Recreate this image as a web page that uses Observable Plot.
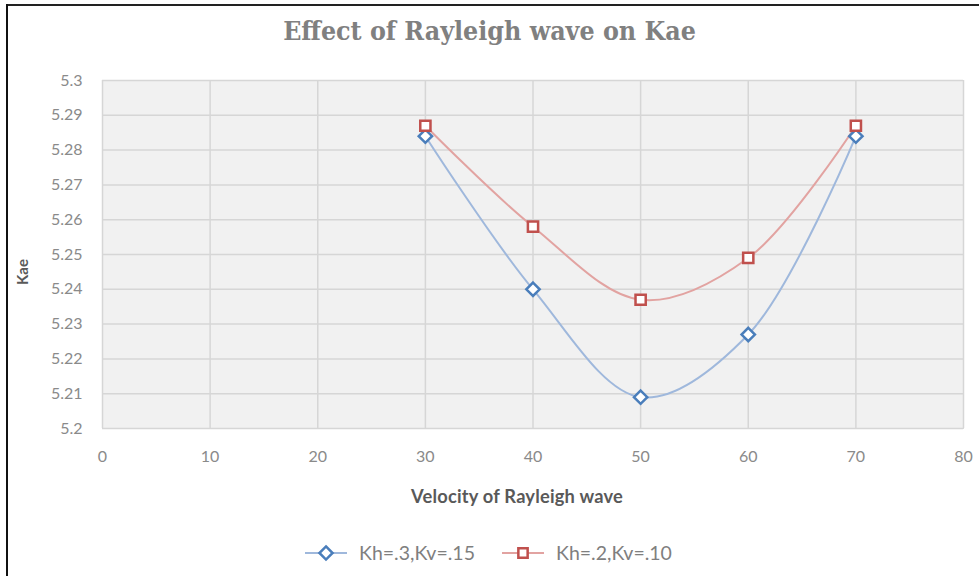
<!DOCTYPE html>
<html>
<head>
<meta charset="utf-8">
<script src="https://cdn.jsdelivr.net/npm/d3@7"></script>
<script src="https://cdn.jsdelivr.net/npm/@observablehq/plot@0.6"></script>
<style>
  html, body { margin: 0; padding: 0; background: #fff; }
  #wrap { position: relative; width: 979px; height: 576px; overflow: hidden; background: #fff; font-family: Lato, "Open Sans", sans-serif; }
  #borderTop { position: absolute; left: 6px; top: 4px; width: 973px; height: 2px; background: #222; }
  #borderLeft { position: absolute; left: 6px; top: 4px; width: 2px; height: 580px; background: #111; }
  #title { position: absolute; top: 15px; left: 0; width: 979px; text-align: center; font-family: "DejaVu Serif Condensed", "DejaVu Serif", serif; font-weight: bold; font-size: 26.5px; color: #808080; }
  #chart { position: absolute; top: 60px; left: 0; }
  #xlabel { position: absolute; top: 485px; left: 0; width: 1034px; text-align: center; font-weight: bold; font-size: 18.3px; color: #595959; letter-spacing: 0.2px; }
  #ylabel { position: absolute; left: 22px; top: 272px; transform: translate(-50%, -50%) rotate(-90deg); font-weight: bold; font-size: 15px; color: #595959; }
  #legend { position: absolute; top: 541px; left: 305px; display: flex; align-items: center; font-size: 19.5px; color: #7f7f7f; }
  #legend .item { display: flex; align-items: center; margin-right: 27px; }
  #legend svg { margin-right: 12px; }
</style>
</head>
<body>
<div id="wrap">
  <div id="borderTop"></div>
  <div id="borderLeft"></div>
  <div id="title">Effect of Rayleigh wave on Kae</div>
  <div id="chart"></div>
  <div id="xlabel">Velocity of Rayleigh wave</div>
  <div id="ylabel">Kae</div>
  <div id="legend"></div>
</div>
<script>
const velocity = [30, 40, 50, 60, 70];
const seriesNames = ["Kh=.3,Kv=.15", "Kh=.2,Kv=.10"];
const kaeA = [5.284, 5.240, 5.209, 5.227, 5.284];
const kaeB = [5.287, 5.258, 5.237, 5.249, 5.287];
const xTicks = [0, 10, 20, 30, 40, 50, 60, 70, 80];
const yTicks = [5.2, 5.21, 5.22, 5.23, 5.24, 5.25, 5.26, 5.27, 5.28, 5.29, 5.3];

const rowsA = velocity.map((v, i) => ({x: v, y: kaeA[i]}));
const rowsB = velocity.map((v, i) => ({x: v, y: kaeB[i]}));

const blueLine = "#9fb8dc", blueMark = "#4a7ebb";
const redLine = "#e2a3a1", redMark = "#c0504d";

const plot = Plot.plot({
  width: 979,
  height: 460,
  marginTop: 20,
  marginBottom: 92,
  marginLeft: 102,
  marginRight: 16,
  style: {fontFamily: "Lato, sans-serif", fontSize: "16px", color: "#8a8a8a", background: "transparent", overflow: "visible"},
  x: {domain: [0, 80], ticks: xTicks},
  y: {domain: [5.2, 5.3], ticks: yTicks},
  marks: [
    Plot.frame({fill: "#f1f1f1", stroke: "#dadada"}),
    Plot.gridX(xTicks, {stroke: "#d6d6d6", strokeOpacity: 1, strokeWidth: 1.5}),
    Plot.gridY(yTicks, {stroke: "#d6d6d6", strokeOpacity: 1, strokeWidth: 1.5}),
    Plot.axisX(xTicks, {tickSize: 0, tickPadding: 22, label: null, fill: "#8a8a8a"}),
    Plot.axisY(yTicks, {tickSize: 0, tickPadding: 20, label: null, fill: "#8a8a8a", tickFormat: d => String(+d.toFixed(2))}),
    Plot.line(rowsA, {x: "x", y: "y", stroke: blueLine, strokeWidth: 2, curve: "catmull-rom"}),
    Plot.line(rowsB, {x: "x", y: "y", stroke: redLine, strokeWidth: 2, curve: "catmull-rom"}),
    Plot.dot(rowsA, {x: "x", y: "y", symbol: "diamond2", r: 6, stroke: blueMark, strokeWidth: 2.5, fill: "#fff"}),
    Plot.dot(rowsB, {x: "x", y: "y", symbol: "square2", r: 6.5, stroke: redMark, strokeWidth: 2.5, fill: "#fff"})
  ]
});
document.getElementById("chart").appendChild(plot);

// legend
const legend = d3.select("#legend");
const items = [
  {name: seriesNames[0], line: blueLine, mark: blueMark, sym: d3.symbolDiamond2},
  {name: seriesNames[1], line: redLine, mark: redMark, sym: d3.symbolSquare2}
];
items.forEach(it => {
  const item = legend.append("div").attr("class", "item");
  const s = item.append("svg").attr("width", 42).attr("height", 20);
  s.append("line").attr("x1", 0).attr("x2", 42).attr("y1", 10).attr("y2", 10).attr("stroke", it.line).attr("stroke-width", 2);
  s.append("path").attr("d", d3.symbol(it.sym, 110)()).attr("transform", "translate(21,10)")
    .attr("fill", "#fff").attr("stroke", it.mark).attr("stroke-width", 2.5);
  item.append("span").text(it.name);
});
</script>
</body>
</html>
